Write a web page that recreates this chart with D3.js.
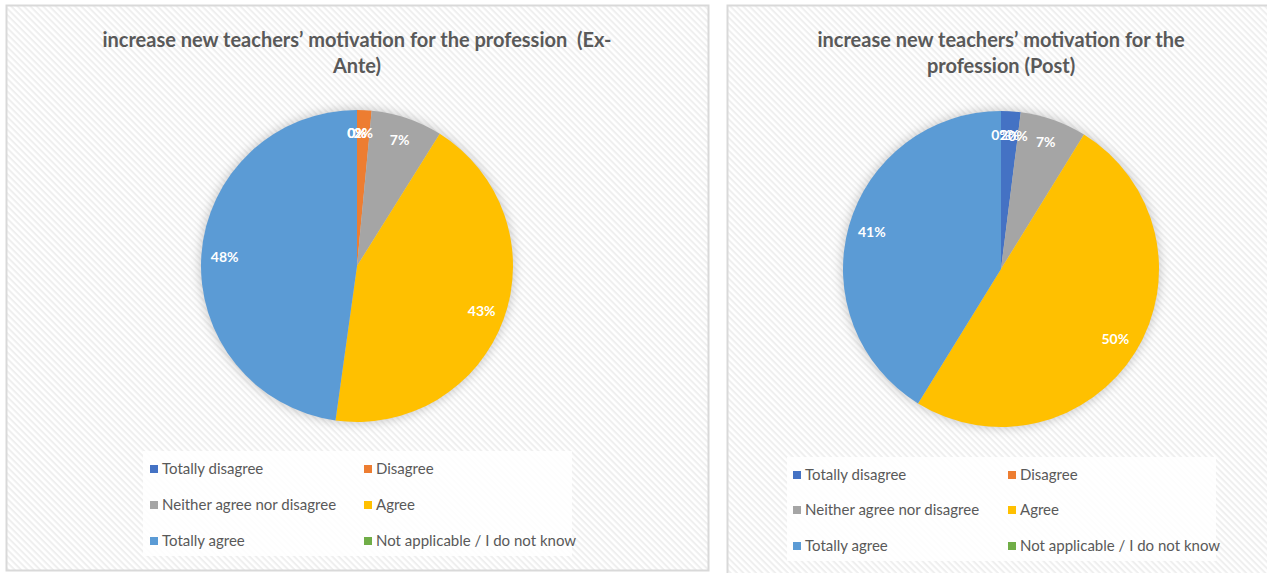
<!DOCTYPE html>
<html>
<head>
<meta charset="utf-8">
<script src="https://cdn.jsdelivr.net/npm/d3@7"></script>
<style>
  html, body { margin: 0; padding: 0; background: #ffffff; }
  svg { display: block; }
  .title { white-space: pre; }
</style>
</head>
<body>
<svg id="chart" width="1267" height="573"></svg>
<script>
// ---- Data ----
const categories = ["Totally disagree", "Disagree", "Neither agree nor disagree", "Agree", "Totally agree", "Not applicable / I do not know"];
const colors = ["#4472C4", "#ED7D31", "#A5A5A5", "#FFC000", "#5B9BD5", "#70AD47"];
const exAnteValues = [0, 1.5, 7.4, 43.3, 47.8, 0];
const postValues = [2.0, 0, 6.8, 50.0, 41.2, 0];
const exAnteTitle = ["increase new teachers\u2019 motivation for the profession  (Ex-", "Ante)"];
const postTitle = ["increase new teachers\u2019 motivation for the", "profession (Post)"];

// ---- Layout ----
const panels = [
  { values: exAnteValues, title: exAnteTitle, box: [6, 5, 702, 565], cx: 357, cy: 266, r: 156,
    titleY: 47, legend: { x: 143, y: 451, w: 429, h: 105, rows: [469, 505, 541], cols: [150, 364] } },
  { values: postValues, title: postTitle, box: [727, 5, 560, 590], cx: 1001, cy: 269, r: 158,
    titleY: 47, legend: { x: 787, y: 457, w: 429, h: 104, rows: [475, 510, 546], cols: [793, 1008] } }
];

const svg = d3.select("#chart");
const defs = svg.append("defs");

const pat = defs.append("pattern")
  .attr("id", "hatch").attr("patternUnits", "userSpaceOnUse")
  .attr("width", 4.5).attr("height", 4.5)
  .attr("patternTransform", "rotate(45)");
pat.append("rect").attr("width", 4.5).attr("height", 4.5).attr("fill", "#ffffff");
pat.append("rect").attr("width", 4.5).attr("height", 2).attr("fill", "#efefef");

const blur = defs.append("filter").attr("id", "glow")
  .attr("x", "-20%").attr("y", "-20%").attr("width", "140%").attr("height", "140%");
blur.append("feGaussianBlur").attr("stdDeviation", 5);

const pie = d3.pie().sort(null).value(d => d);

panels.forEach(p => {
  const [bx, by, bw, bh] = p.box;
  const g = svg.append("g");
  g.append("rect").attr("x", bx + 0.5).attr("y", by + 0.5).attr("width", bw).attr("height", bh)
    .attr("fill", "url(#hatch)").attr("stroke", "#d9d9d9").attr("stroke-width", 2);

  // title
  p.title.forEach((line, i) => {
    g.append("text").attr("class", "title").attr("x", p.cx).attr("y", p.titleY + i * 26)
      .attr("text-anchor", "middle")
      .attr("font-family", "Lato, 'Open Sans', sans-serif")
      .attr("font-weight", "bold").attr("font-size", 20)
      .attr("fill", "#595959").text(line);
  });

  // shadow
  g.append("circle").attr("cx", p.cx).attr("cy", p.cy).attr("r", p.r + 2)
    .attr("fill", "#9a9a9a").attr("opacity", 0.45).attr("filter", "url(#glow)");

  const arc = d3.arc().innerRadius(0).outerRadius(p.r);
  const labelArc = d3.arc().innerRadius(p.r * 0.85).outerRadius(p.r * 0.85);
  const arcs = pie(p.values);
  const pg = g.append("g").attr("transform", `translate(${p.cx},${p.cy})`);
  pg.selectAll("path").data(arcs).join("path")
    .attr("d", arc).attr("fill", (d, i) => colors[i]);
  pg.selectAll("text").data(arcs).join("text")
    .attr("transform", d => {
      const [x, y] = labelArc.centroid(d);
      return `translate(${x},${y})`;
    })
    .attr("text-anchor", "middle").attr("dy", "0.35em")
    .attr("font-family", "Lato, 'Open Sans', sans-serif")
    .attr("font-weight", "bold").attr("font-size", 14)
    .attr("fill", "#ffffff")
    .text(d => Math.round(d.data) + "%");

  // legend
  const L = p.legend;
  g.append("rect").attr("x", L.x).attr("y", L.y).attr("width", L.w).attr("height", L.h)
    .attr("fill", "#ffffff").attr("opacity", 0.85);
  categories.forEach((c, i) => {
    const row = Math.floor(i / 2), col = i % 2;
    const lx = L.cols[col], ly = L.rows[row];
    g.append("rect").attr("x", lx).attr("y", ly - 4).attr("width", 8).attr("height", 8)
      .attr("fill", colors[i]);
    g.append("text").attr("x", lx + 12).attr("y", ly).attr("dy", "0.35em")
      .attr("font-family", "Lato, 'Open Sans', sans-serif").attr("font-size", 15)
      .attr("fill", "#595959").text(c);
  });
});
</script>
</body>
</html>
